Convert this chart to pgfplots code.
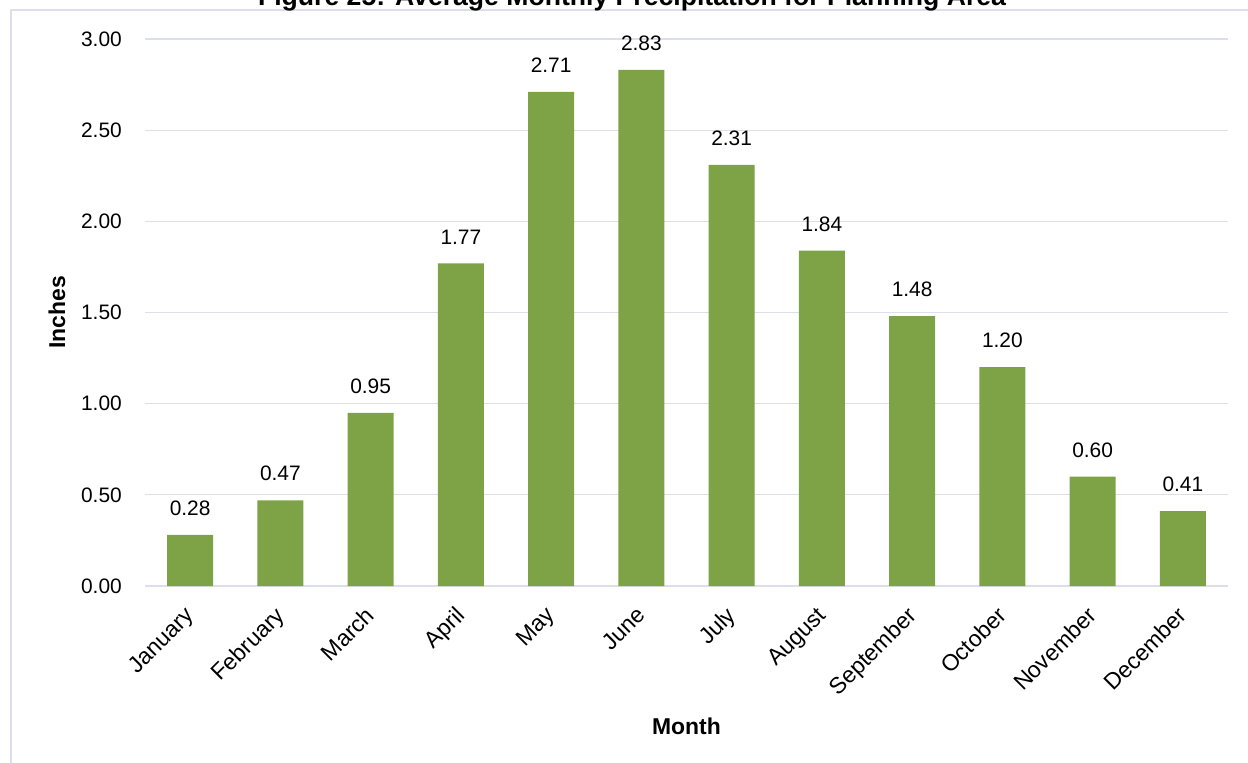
\documentclass[border=0pt]{standalone}
\usepackage{fontspec}
\setmainfont{Liberation Sans}
\usepackage{pgfplots}
\pgfplotsset{compat=1.18}

\definecolor{bargreen}{RGB}{126,163,70}
\definecolor{gridgray}{RGB}{220,223,232}

\begin{document}
\begin{tikzpicture}
  % chart area frame
  \draw[gridgray, line width=1.2bp] (11bp,0) -- (11bp,753bp) -- (1248bp,753bp);
  % title (runs off the top edge)
  \node[anchor=base, font=\fontsize{26.7}{30}\selectfont\bfseries, inner sep=0pt]
    at (632bp,757bp) {Figure 25: Average Monthly Precipitation for Planning Area};

  \begin{axis}[
    at={(145bp,177bp)}, anchor=south west,
    scale only axis,
    width=1083bp, height=547bp,
    xmin=-0.5, xmax=11.5,
    ymin=0, ymax=3,
    ybar, bar width=46bp,
    clip=false,
    axis line style={draw=none},
    tick style={draw=none},
    ymajorgrids,
    grid style={gridgray, line width=1.2bp},
    ytick={0,0.5,1,1.5,2,2.5,3},
    xtick={0,...,11},
    xticklabels={January,February,March,April,May,June,July,August,September,October,November,December},
    /pgf/number format/assume math mode=true,
    yticklabel style={font=\fontsize{21}{25}\selectfont, inner sep=0pt, xshift=-23bp,
      /pgf/number format/fixed, /pgf/number format/fixed zerofill, /pgf/number format/precision=2},
    xticklabel style={font=\fontsize{23}{27}\selectfont, rotate=45, anchor=north east, inner sep=0pt, xshift=-15bp, yshift=-6bp},
    nodes near coords,
    nodes near coords style={font=\fontsize{21}{25}\selectfont, anchor=south, inner sep=0pt, yshift=19bp,
      /pgf/number format/fixed, /pgf/number format/fixed zerofill, /pgf/number format/precision=2},
    ylabel={Inches},
    ylabel style={at={(axis description cs:0,0.5)}, anchor=center, yshift=88bp, font=\fontsize{23}{27}\selectfont\bfseries},
    xlabel={Month},
    xlabel style={at={(axis description cs:0.5,0)}, anchor=center, yshift=-140bp, font=\fontsize{23}{27}\selectfont\bfseries},
  ]
    \addplot[fill=bargreen, draw=none] coordinates {
      (0,0.28) (1,0.47) (2,0.95) (3,1.77) (4,2.71) (5,2.83)
      (6,2.31) (7,1.84) (8,1.48) (9,1.20) (10,0.60) (11,0.41)
    };
  \end{axis}
  \pgfresetboundingbox
  \useasboundingbox (0,0) rectangle (1248bp,763bp);
\end{tikzpicture}
\end{document}
